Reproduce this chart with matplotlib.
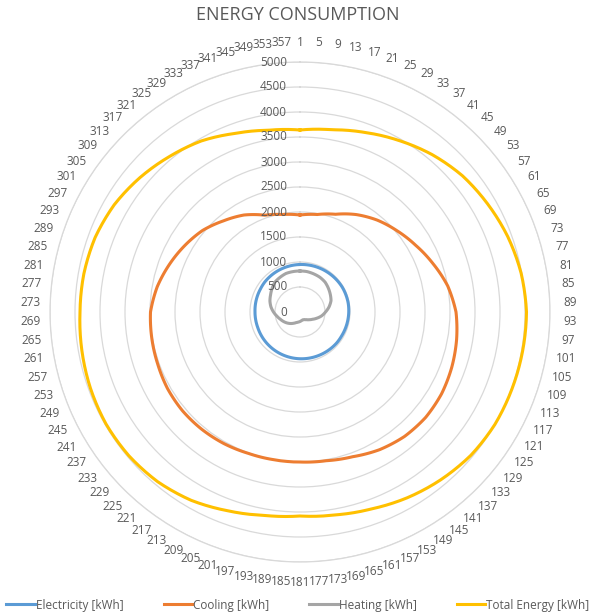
import matplotlib.pyplot as plt
import numpy as np
from matplotlib.transforms import offset_copy
from matplotlib.lines import Line2D

plt.rcParams['font.family'] = ['Open Sans', 'DejaVu Sans']

# sampled every 10th day (day 1 at the top, clockwise)
days = list(range(1, 361, 10))

electricity = [950, 955, 960, 965, 970, 975, 980, 980, 980, 975, 970, 965,
               960, 960, 955, 950, 945, 940, 935, 930, 925, 920, 915, 910,
               905, 900, 900, 900, 905, 910, 915, 925, 930, 935, 940, 945]
cooling = [1940, 1980, 2080, 2250, 2400, 2530, 2670, 2830, 3000, 3120, 3180, 3230,
           3270, 3280, 3250, 3180, 3080, 3020, 3000, 3000, 3010, 3040, 3060, 3070,
           3060, 3030, 3010, 2990, 2900, 2780, 2660, 2540, 2380, 2240, 2060, 1980]
heating = [820, 820, 810, 800, 780, 740, 700, 660, 590, 510, 440, 360,
           290, 240, 200, 175, 165, 175, 190, 205, 225, 260, 300, 340,
           380, 420, 470, 530, 590, 640, 680, 730, 780, 800, 820, 820]
total = [3640, 3700, 3820, 3960, 4110, 4240, 4330, 4420, 4490, 4530, 4520, 4510,
         4500, 4460, 4380, 4290, 4190, 4120, 4080, 4130, 4230, 4350, 4430, 4470,
         4480, 4460, 4430, 4400, 4390, 4360, 4290, 4180, 4060, 3950, 3800, 3690]

series = [("Electricity [kWh]", electricity, "#5B9BD5"),
          ("Cooling [kWh]", cooling, "#ED7D31"),
          ("Heating [kWh]", heating, "#A5A5A5"),
          ("Total Energy [kWh]", total, "#FFC000")]

label_days = list(range(1, 358, 4))
rings = list(range(0, 5001, 500))
n_days = 360

txt = "#595959"
grid = "#D9D9D9"

fig = plt.figure(figsize=(5.96, 6.16), dpi=100)
ax = fig.add_axes([50 / 596, 54 / 616, 500 / 596, 500 / 616], projection="polar")
ax.set_theta_zero_location("N")
ax.set_theta_direction(-1)


def to_theta(d):
    return np.deg2rad((np.asarray(d) - 1) * 360.0 / n_days)


th = to_theta(days + [days[0] + n_days])
for name, vals, col in series:
    ln, = ax.plot(th, vals + [vals[0]], color=col, lw=2.2,
                  solid_joinstyle="round")
    # draw each segment as a polar arc instead of a straight chord
    ln.get_path()._interpolation_steps = 20

ax.set_ylim(0, 5000)
ax.set_yticks(rings)
ax.set_yticklabels([])
ax.set_xticks([])
ax.yaxis.grid(True, color=grid, lw=0.9)
ax.xaxis.grid(False)
ax.spines["polar"].set_color(grid)
ax.spines["polar"].set_linewidth(0.9)

# value axis labels sit left of the top spoke
off = offset_copy(ax.transData, fig=fig, x=-13, y=0, units="dots")
for v in rings:
    ax.text(0, v, str(v), transform=off, ha="right", va="center",
            fontsize=8.5, color=txt)

for d in label_days:
    ax.text(to_theta(d), 5400, str(d), ha="center", va="center",
            fontsize=8.5, color=txt, clip_on=False)

fig.text(0.5, 1 - 15 / 616, "ENERGY CONSUMPTION", ha="center", va="center",
         fontsize=13, color=txt)

handles = [Line2D([], [], color=c, lw=2.2) for _, _, c in series]
fig.legend(handles, [s[0] for s in series], loc="lower center",
           bbox_to_anchor=(0.5, -0.01), ncol=4, frameon=False, fontsize=8.5,
           handlelength=2.4, handletextpad=0.1, columnspacing=3.4,
           labelcolor=txt)

fig.savefig("out.png", dpi=100)
